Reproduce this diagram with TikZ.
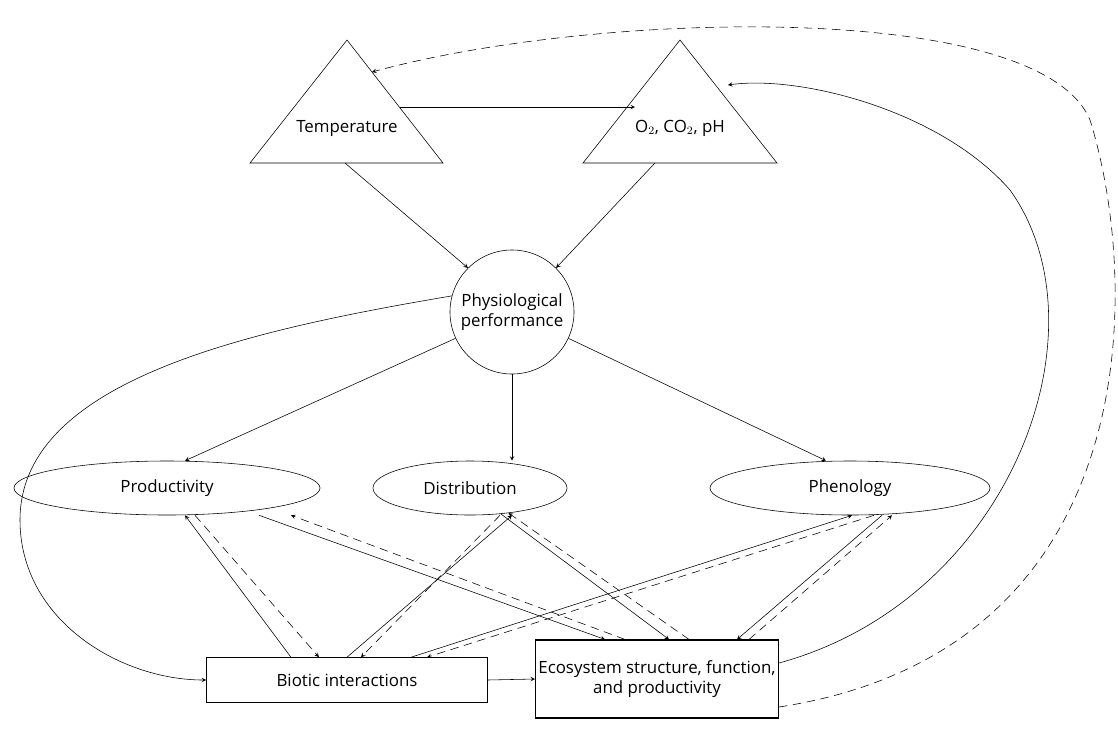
\documentclass[tikz,border=0pt]{standalone}
\usepackage{fontspec}
\setmainfont{Open Sans}
\usetikzlibrary{shapes.geometric}
\begin{document}
\begin{tikzpicture}[x=0.025cm,y=-0.025cm,>=stealth,font=\fontsize{12}{14}\selectfont,
	oval/.style={draw,ellipse,inner sep=0pt,minimum height=1.35cm},
	box/.style={draw,inner sep=2pt,align=center},
	back/.style={->,dashed,dash pattern=on 6pt off 4pt}]
	\useasboundingbox (0,0) rectangle (1118,732);

	%triangles
	\draw (250,163)--(347,40)--(443,163)--cycle;
	\draw (583,163)--(680,40)--(777,163)--cycle;
	\node (temp) at (347,128) {Temperature};
	\node (gas) at (680,128) {O$_2$, CO$_2$, pH};
	\coordinate (tempR) at (400,107);
	\coordinate (gasL) at (635,107);
	\coordinate (tempB) at (345,163);
	\coordinate (gasB) at (655,163);
	\coordinate (tempTop) at (372,72);
	\coordinate (gasTop) at (728,85);

	\node[draw,circle,minimum size=3.1cm,align=center,inner sep=0pt] (phys) at (512,312) {Physiological\\performance};

	\node[oval,minimum width=7.65cm] (prod) at (167,488) {Productivity};
	\node[oval,minimum width=4.85cm] (dist) at (470,488) {Distribution};
	\node[oval,minimum width=7cm] (phen) at (850,488) {Phenology};

	\node[box,minimum width=7.025cm,minimum height=1.125cm] (bio) at (347,680) {Biotic interactions};
	\node[box,thick,minimum width=5.625cm,minimum height=1.95cm] (eco) at (657,679) {Ecosystem structure, function,\\and productivity};

	%drivers
	\draw[->] (tempR)--(gasL);
	\draw[->] (tempB)--(phys.135);
	\draw[->] (gasB)--(phys.45);
	\draw[->] (phys.205)--([xshift=0.45cm]prod.north);
	\draw[->] (phys.south)--(phys.south|-dist.north);
	\draw[->] (phys.335)--([xshift=-0.6cm]phen.north);

	%feedback curves
	\draw[->] (phys.165) .. controls (250,330) and (20,380) .. (20,520)
		.. controls (20,620) and (120,680) .. (bio.west);
	\draw[->] ([yshift=0.4cm]eco.east) .. controls (1010,600) and (1110,330) .. (1010,190)
		.. controls (940,110) and (800,75) .. (gasTop);
	\draw[back] ([yshift=-0.7cm]eco.east) .. controls (1150,650) and (1140,280) .. (1090,120)
		.. controls (1040,0) and (600,10) .. (tempTop);

	%ellipses -- boxes
	\draw[->] (bio.east)--(eco.west);
	\draw[->] ([xshift=-1.4cm]bio.north)--([xshift=0.45cm]prod.south);
	\draw[back] ([xshift=0.7cm]prod.south)--([xshift=-0.7cm]bio.north);
	\draw[->] ([xshift=2.3cm]prod.south)--([xshift=-1.3cm]eco.north);
	\draw[back] ([xshift=-0.8cm]eco.north)--([xshift=3.1cm]prod.south);
	\draw[->] (bio.north)--([xshift=1.05cm]dist.south);
	\draw[back] ([xshift=0.75cm]dist.south)--([xshift=0.35cm]bio.north);
	\draw[->] (dist.-40)--([xshift=0.3cm]eco.north);
	\draw[back] ([xshift=0.8cm]eco.north)--(dist.-33);
	\draw[->] ([xshift=1.6cm]bio.north)--([xshift=0.05cm]phen.south);
	\draw[back] ([xshift=0.6cm]phen.south)--([xshift=2cm]bio.north);
	\draw[->] ([xshift=0.8cm]phen.south)--([xshift=2cm]eco.north);
	\draw[back] ([xshift=2.3cm]eco.north)--([xshift=1.05cm]phen.south);
\end{tikzpicture}
\end{document}
